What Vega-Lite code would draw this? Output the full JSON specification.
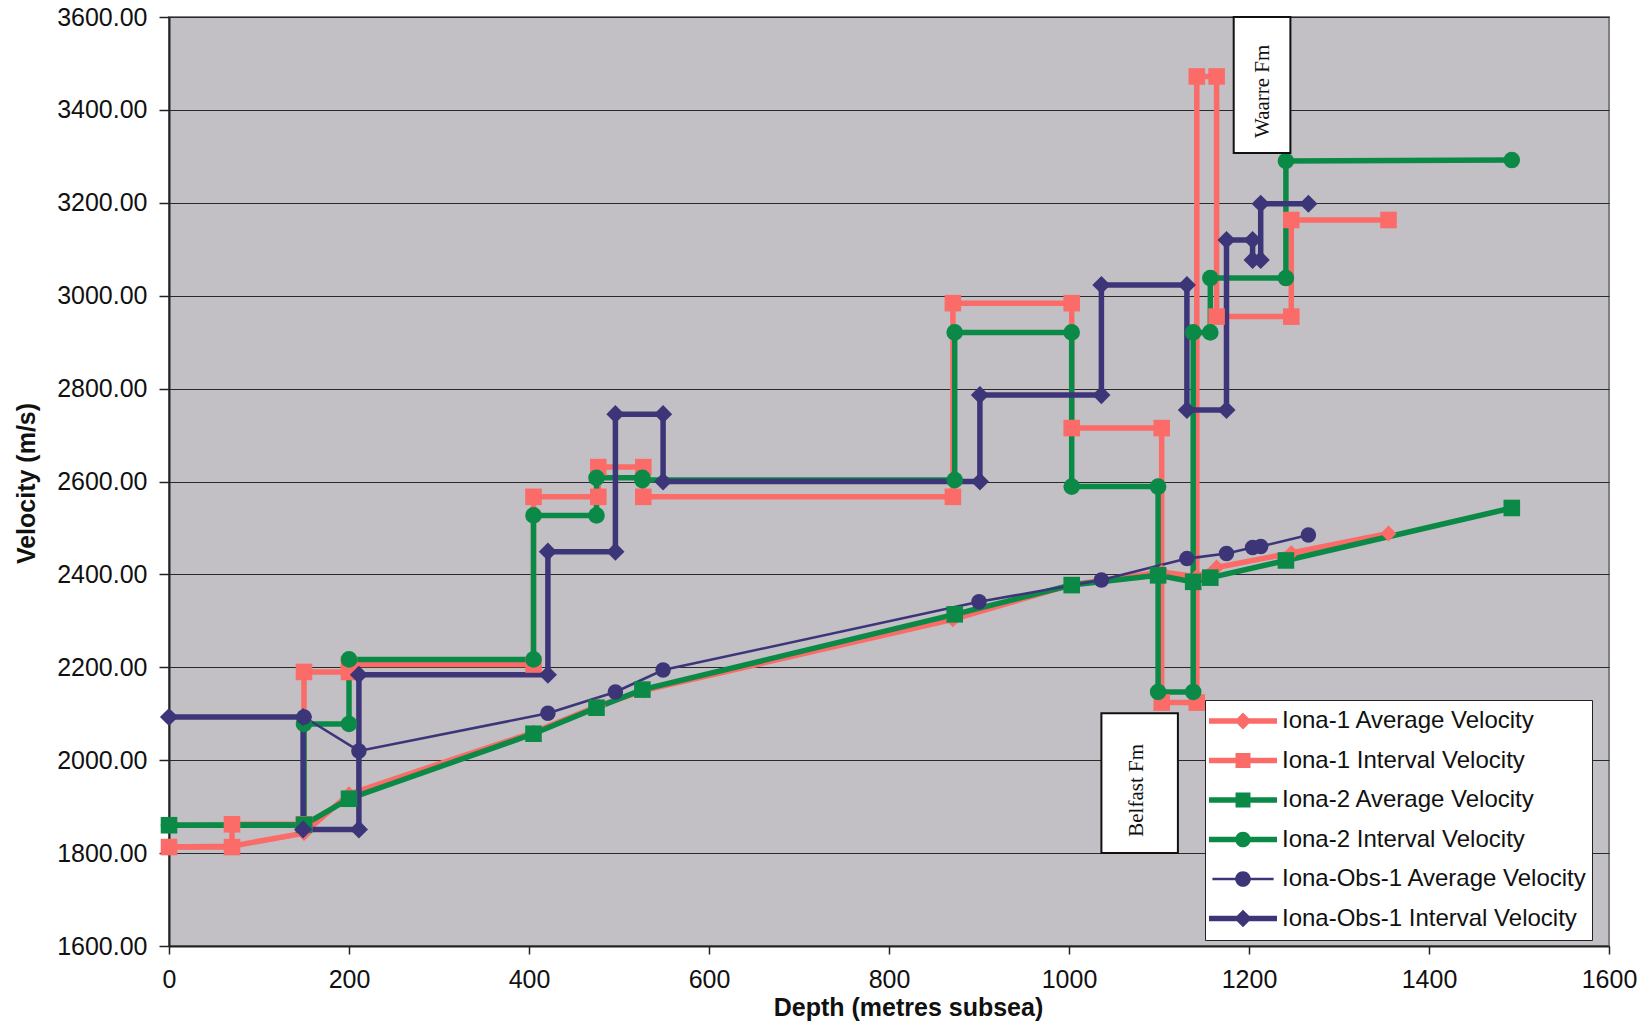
{
  "$schema": "https://vega.github.io/schema/vega-lite/v6.json",
  "width": 1440,
  "height": 929,
  "autosize": {"type": "none"},
  "padding": {"left": 169, "top": 17, "right": 34, "bottom": 77},
  "background": "white",
  "config": {
    "view": {"fill": "#c2c0c5", "stroke": "#7f7f7f", "strokeWidth": 2},
    "font": "Liberation Sans"
  },
  "datasets": {
    "vel": [
      {"s": "Iona-1 Average Velocity", "i": 0, "d": 0, "v": 1813},
      {"s": "Iona-1 Average Velocity", "i": 1, "d": 70, "v": 1815},
      {"s": "Iona-1 Average Velocity", "i": 2, "d": 150, "v": 1843},
      {"s": "Iona-1 Average Velocity", "i": 3, "d": 200, "v": 1927},
      {"s": "Iona-1 Average Velocity", "i": 4, "d": 405, "v": 2060},
      {"s": "Iona-1 Average Velocity", "i": 5, "d": 477, "v": 2117},
      {"s": "Iona-1 Average Velocity", "i": 6, "d": 527, "v": 2150},
      {"s": "Iona-1 Average Velocity", "i": 7, "d": 871, "v": 2303},
      {"s": "Iona-1 Average Velocity", "i": 8, "d": 1003, "v": 2378},
      {"s": "Iona-1 Average Velocity", "i": 9, "d": 1103, "v": 2405},
      {"s": "Iona-1 Average Velocity", "i": 10, "d": 1142, "v": 2395},
      {"s": "Iona-1 Average Velocity", "i": 11, "d": 1164, "v": 2415},
      {"s": "Iona-1 Average Velocity", "i": 12, "d": 1247, "v": 2446},
      {"s": "Iona-1 Average Velocity", "i": 13, "d": 1355, "v": 2488},

      {"s": "Iona-1 Interval Velocity", "i": 0, "d": 0, "v": 1813},
      {"s": "Iona-1 Interval Velocity", "i": 1, "d": 70, "v": 1813},
      {"s": "Iona-1 Interval Velocity", "i": 2, "d": 70, "v": 1862},
      {"s": "Iona-1 Interval Velocity", "i": 3, "d": 150, "v": 1862},
      {"s": "Iona-1 Interval Velocity", "i": 4, "d": 150, "v": 2190},
      {"s": "Iona-1 Interval Velocity", "i": 5, "d": 200, "v": 2190},
      {"s": "Iona-1 Interval Velocity", "i": 6, "d": 200, "v": 2206},
      {"s": "Iona-1 Interval Velocity", "i": 7, "d": 405, "v": 2206},
      {"s": "Iona-1 Interval Velocity", "i": 8, "d": 405, "v": 2567},
      {"s": "Iona-1 Interval Velocity", "i": 9, "d": 477, "v": 2567},
      {"s": "Iona-1 Interval Velocity", "i": 10, "d": 477, "v": 2631},
      {"s": "Iona-1 Interval Velocity", "i": 11, "d": 527, "v": 2631},
      {"s": "Iona-1 Interval Velocity", "i": 12, "d": 527, "v": 2567},
      {"s": "Iona-1 Interval Velocity", "i": 13, "d": 871, "v": 2567},
      {"s": "Iona-1 Interval Velocity", "i": 14, "d": 871, "v": 2984},
      {"s": "Iona-1 Interval Velocity", "i": 15, "d": 1003, "v": 2984},
      {"s": "Iona-1 Interval Velocity", "i": 16, "d": 1003, "v": 2715},
      {"s": "Iona-1 Interval Velocity", "i": 17, "d": 1103, "v": 2715},
      {"s": "Iona-1 Interval Velocity", "i": 18, "d": 1103, "v": 2124},
      {"s": "Iona-1 Interval Velocity", "i": 19, "d": 1142, "v": 2124},
      {"s": "Iona-1 Interval Velocity", "i": 20, "d": 1142, "v": 3472},
      {"s": "Iona-1 Interval Velocity", "i": 21, "d": 1164, "v": 3472},
      {"s": "Iona-1 Interval Velocity", "i": 22, "d": 1164, "v": 2955},
      {"s": "Iona-1 Interval Velocity", "i": 23, "d": 1247, "v": 2955},
      {"s": "Iona-1 Interval Velocity", "i": 24, "d": 1247, "v": 3163},
      {"s": "Iona-1 Interval Velocity", "i": 25, "d": 1355, "v": 3163},

      {"s": "Iona-2 Average Velocity", "i": 0, "d": 0, "v": 1860},
      {"s": "Iona-2 Average Velocity", "i": 1, "d": 150, "v": 1861},
      {"s": "Iona-2 Average Velocity", "i": 2, "d": 200, "v": 1917},
      {"s": "Iona-2 Average Velocity", "i": 3, "d": 405, "v": 2057},
      {"s": "Iona-2 Average Velocity", "i": 4, "d": 475, "v": 2113},
      {"s": "Iona-2 Average Velocity", "i": 5, "d": 526, "v": 2152},
      {"s": "Iona-2 Average Velocity", "i": 6, "d": 873, "v": 2314},
      {"s": "Iona-2 Average Velocity", "i": 7, "d": 1003, "v": 2377},
      {"s": "Iona-2 Average Velocity", "i": 8, "d": 1099, "v": 2398},
      {"s": "Iona-2 Average Velocity", "i": 9, "d": 1138, "v": 2384},
      {"s": "Iona-2 Average Velocity", "i": 10, "d": 1157, "v": 2393},
      {"s": "Iona-2 Average Velocity", "i": 11, "d": 1241, "v": 2430},
      {"s": "Iona-2 Average Velocity", "i": 12, "d": 1492, "v": 2543},

      {"s": "Iona-2 Interval Velocity", "i": 0, "d": 0, "v": 1860},
      {"s": "Iona-2 Interval Velocity", "i": 1, "d": 150, "v": 1860},
      {"s": "Iona-2 Interval Velocity", "i": 2, "d": 150, "v": 2078},
      {"s": "Iona-2 Interval Velocity", "i": 3, "d": 200, "v": 2078},
      {"s": "Iona-2 Interval Velocity", "i": 4, "d": 200, "v": 2217},
      {"s": "Iona-2 Interval Velocity", "i": 5, "d": 405, "v": 2217},
      {"s": "Iona-2 Interval Velocity", "i": 6, "d": 405, "v": 2527},
      {"s": "Iona-2 Interval Velocity", "i": 7, "d": 475, "v": 2527},
      {"s": "Iona-2 Interval Velocity", "i": 8, "d": 475, "v": 2608},
      {"s": "Iona-2 Interval Velocity", "i": 9, "d": 526, "v": 2608},
      {"s": "Iona-2 Interval Velocity", "i": 10, "d": 526, "v": 2603},
      {"s": "Iona-2 Interval Velocity", "i": 11, "d": 873, "v": 2603},
      {"s": "Iona-2 Interval Velocity", "i": 12, "d": 873, "v": 2921},
      {"s": "Iona-2 Interval Velocity", "i": 13, "d": 1003, "v": 2921},
      {"s": "Iona-2 Interval Velocity", "i": 14, "d": 1003, "v": 2589},
      {"s": "Iona-2 Interval Velocity", "i": 15, "d": 1099, "v": 2589},
      {"s": "Iona-2 Interval Velocity", "i": 16, "d": 1099, "v": 2147},
      {"s": "Iona-2 Interval Velocity", "i": 17, "d": 1138, "v": 2147},
      {"s": "Iona-2 Interval Velocity", "i": 18, "d": 1138, "v": 2921},
      {"s": "Iona-2 Interval Velocity", "i": 19, "d": 1157, "v": 2921},
      {"s": "Iona-2 Interval Velocity", "i": 20, "d": 1157, "v": 3038},
      {"s": "Iona-2 Interval Velocity", "i": 21, "d": 1241, "v": 3038},
      {"s": "Iona-2 Interval Velocity", "i": 22, "d": 1241, "v": 3290},
      {"s": "Iona-2 Interval Velocity", "i": 23, "d": 1492, "v": 3292},

      {"s": "Iona-Obs-1 Average Velocity", "i": 0, "d": 150, "v": 2093},
      {"s": "Iona-Obs-1 Average Velocity", "i": 1, "d": 211, "v": 2020},
      {"s": "Iona-Obs-1 Average Velocity", "i": 2, "d": 421, "v": 2101},
      {"s": "Iona-Obs-1 Average Velocity", "i": 3, "d": 496, "v": 2147},
      {"s": "Iona-Obs-1 Average Velocity", "i": 4, "d": 549, "v": 2194},
      {"s": "Iona-Obs-1 Average Velocity", "i": 5, "d": 900, "v": 2341},
      {"s": "Iona-Obs-1 Average Velocity", "i": 6, "d": 1036, "v": 2388},
      {"s": "Iona-Obs-1 Average Velocity", "i": 7, "d": 1131, "v": 2434},
      {"s": "Iona-Obs-1 Average Velocity", "i": 8, "d": 1175, "v": 2445},
      {"s": "Iona-Obs-1 Average Velocity", "i": 9, "d": 1204, "v": 2458},
      {"s": "Iona-Obs-1 Average Velocity", "i": 10, "d": 1213, "v": 2460},
      {"s": "Iona-Obs-1 Average Velocity", "i": 11, "d": 1266, "v": 2485},

      {"s": "Iona-Obs-1 Interval Velocity", "i": 0, "d": 0, "v": 2093},
      {"s": "Iona-Obs-1 Interval Velocity", "i": 1, "d": 149, "v": 2093},
      {"s": "Iona-Obs-1 Interval Velocity", "i": 2, "d": 149, "v": 1851},
      {"s": "Iona-Obs-1 Interval Velocity", "i": 3, "d": 211, "v": 1851},
      {"s": "Iona-Obs-1 Interval Velocity", "i": 4, "d": 211, "v": 2184},
      {"s": "Iona-Obs-1 Interval Velocity", "i": 5, "d": 421, "v": 2184},
      {"s": "Iona-Obs-1 Interval Velocity", "i": 6, "d": 421, "v": 2449},
      {"s": "Iona-Obs-1 Interval Velocity", "i": 7, "d": 496, "v": 2449},
      {"s": "Iona-Obs-1 Interval Velocity", "i": 8, "d": 496, "v": 2745},
      {"s": "Iona-Obs-1 Interval Velocity", "i": 9, "d": 549, "v": 2745},
      {"s": "Iona-Obs-1 Interval Velocity", "i": 10, "d": 549, "v": 2600},
      {"s": "Iona-Obs-1 Interval Velocity", "i": 11, "d": 901, "v": 2600},
      {"s": "Iona-Obs-1 Interval Velocity", "i": 12, "d": 901, "v": 2786},
      {"s": "Iona-Obs-1 Interval Velocity", "i": 13, "d": 1036, "v": 2786},
      {"s": "Iona-Obs-1 Interval Velocity", "i": 14, "d": 1036, "v": 3023},
      {"s": "Iona-Obs-1 Interval Velocity", "i": 15, "d": 1131, "v": 3023},
      {"s": "Iona-Obs-1 Interval Velocity", "i": 16, "d": 1131, "v": 2754},
      {"s": "Iona-Obs-1 Interval Velocity", "i": 17, "d": 1175, "v": 2754},
      {"s": "Iona-Obs-1 Interval Velocity", "i": 18, "d": 1175, "v": 3120},
      {"s": "Iona-Obs-1 Interval Velocity", "i": 19, "d": 1204, "v": 3120},
      {"s": "Iona-Obs-1 Interval Velocity", "i": 20, "d": 1204, "v": 3077},
      {"s": "Iona-Obs-1 Interval Velocity", "i": 21, "d": 1213, "v": 3077},
      {"s": "Iona-Obs-1 Interval Velocity", "i": 22, "d": 1213, "v": 3198},
      {"s": "Iona-Obs-1 Interval Velocity", "i": 23, "d": 1266, "v": 3198}
    ],
    "ann": [
      {"label": "Waarre Fm", "d1": 1183, "d2": 1246, "v1": 3307, "v2": 3600, "dc": 1216, "vc": 3440},
      {"label": "Belfast Fm", "d1": 1036, "d2": 1121, "v1": 1800, "v2": 2101, "dc": 1076, "vc": 1935}
    ]
  },
  "encoding": {
    "x": {
      "field": "d", "type": "quantitative",
      "scale": {"domain": [0, 1600], "nice": false, "zero": false},
      "axis": {
        "title": "Depth (metres subsea)",
        "values": [0, 200, 400, 600, 800, 1000, 1200, 1400, 1600],
        "format": "d",
        "grid": false,
        "labelFontSize": 25, "labelColor": "#111", "labelFont": "Liberation Sans",
        "labelFlush": false, "labelOverlap": false,
        "tickSize": 8, "tickColor": "#222", "tickWidth": 1.5,
        "domainColor": "#222", "domainWidth": 2,
        "labelPadding": 13,
        "titleFontSize": 25, "titleFontWeight": "bold", "titleColor": "#111", "titleFont": "Liberation Sans",
        "titleX": 739, "titleY": 61, "titleBaseline": "middle"
      }
    },
    "y": {
      "field": "v", "type": "quantitative",
      "scale": {"domain": [1600, 3600], "nice": false, "zero": false},
      "axis": {
        "title": "Velocity (m/s)",
        "values": [1600, 1800, 2000, 2200, 2400, 2600, 2800, 3000, 3200, 3400, 3600],
        "format": ".2f",
        "grid": true, "gridColor": "#2a2a2a", "gridWidth": 1.2,
        "labelFontSize": 25, "labelColor": "#111", "labelFont": "Liberation Sans",
        "labelFlush": false, "labelOverlap": false,
        "tickSize": 10, "tickColor": "#222", "tickWidth": 1.5,
        "domainColor": "#222", "domainWidth": 2,
        "labelPadding": 12,
        "titleFontSize": 25, "titleFontWeight": "bold", "titleColor": "#111", "titleFont": "Liberation Sans",
        "titleX": -143, "titleY": 466, "titleBaseline": "middle"
      }
    }
  },
  "layer": [
    {
      "data": {"name": "vel"},
      "mark": {"type": "line", "strokeCap": "butt", "strokeJoin": "miter"},
      "encoding": {
        "color": {
          "field": "s", "type": "nominal",
          "scale": {
            "domain": ["Iona-1 Average Velocity", "Iona-1 Interval Velocity", "Iona-2 Average Velocity", "Iona-2 Interval Velocity", "Iona-Obs-1 Average Velocity", "Iona-Obs-1 Interval Velocity"],
            "range": ["#fb6b68", "#fb6b68", "#0b8a47", "#0b8a47", "#3c3679", "#3c3679"]
          },
          "legend": null
        },
        "strokeWidth": {
          "condition": {"test": "datum.s === 'Iona-Obs-1 Average Velocity'", "value": 2.6},
          "value": 5.5
        },
        "order": {"field": "i", "type": "quantitative"}
      }
    },
    {
      "data": {"name": "vel"},
      "mark": {"type": "point", "filled": true, "opacity": 1, "strokeWidth": 0},
      "encoding": {
        "color": {
          "field": "s", "type": "nominal",
          "scale": {
            "domain": ["Iona-1 Average Velocity", "Iona-1 Interval Velocity", "Iona-2 Average Velocity", "Iona-2 Interval Velocity", "Iona-Obs-1 Average Velocity", "Iona-Obs-1 Interval Velocity"],
            "range": ["#fb6b68", "#fb6b68", "#0b8a47", "#0b8a47", "#3c3679", "#3c3679"]
          },
          "legend": null
        },
        "shape": {
          "field": "s", "type": "nominal",
          "scale": {
            "domain": ["Iona-1 Average Velocity", "Iona-1 Interval Velocity", "Iona-2 Average Velocity", "Iona-2 Interval Velocity", "Iona-Obs-1 Average Velocity", "Iona-Obs-1 Interval Velocity"],
            "range": ["diamond", "square", "square", "circle", "circle", "diamond"]
          },
          "legend": null
        },
        "size": {
          "condition": [
            {"test": "datum.s === 'Iona-1 Average Velocity'", "value": 250},
            {"test": "datum.s === 'Iona-Obs-1 Interval Velocity'", "value": 330},
            {"test": "datum.s === 'Iona-Obs-1 Average Velocity'", "value": 240}
          ],
          "value": 275
        }
      }
    },
    {
      "data": {"name": "vel"},
      "mark": {"type": "point", "filled": true, "opacity": 0},
      "encoding": {
        "color": {
          "field": "s", "type": "nominal",
          "scale": {
            "domain": ["Iona-1 Average Velocity", "Iona-1 Interval Velocity", "Iona-2 Average Velocity", "Iona-2 Interval Velocity", "Iona-Obs-1 Average Velocity", "Iona-Obs-1 Interval Velocity"],
            "range": ["#fb6b68", "#fb6b68", "#0b8a47", "#0b8a47", "#3c3679", "#3c3679"]
          },
          "legend": {
            "title": null, "orient": "none", "legendX": 1036, "legendY": 683,
            "fillColor": "white", "strokeColor": "#222", "padding": 4,
            "symbolSize": 4624, "clipHeight": 34, "rowPadding": 5.5,
            "labelFontSize": 24, "labelFont": "Liberation Sans", "labelColor": "#111",
            "labelOffset": 5, "labelLimit": 400, "symbolStrokeWidth": 0, "symbolOffset": 0,
            "encode": {"symbols": {"update": {"opacity": {"value": 1}}}}
          }
        },
        "shape": {
          "field": "s", "type": "nominal",
          "scale": {
            "domain": ["Iona-1 Average Velocity", "Iona-1 Interval Velocity", "Iona-2 Average Velocity", "Iona-2 Interval Velocity", "Iona-Obs-1 Average Velocity", "Iona-Obs-1 Interval Velocity"],
            "range": [
              "M-1,-0.08H1V0.08H-1Z M0,-0.25L0.25,0L0,0.25L-0.25,0Z",
              "M-1,-0.08H1V0.08H-1Z M-0.22,-0.22H0.22V0.22H-0.22Z",
              "M-1,-0.08H1V0.08H-1Z M-0.22,-0.22H0.22V0.22H-0.22Z",
              "M-1,-0.08H1V0.08H-1Z M-0.23,0A0.23,0.23,0,1,1,0.23,0A0.23,0.23,0,1,1,-0.23,0Z",
              "M-0.9,-0.038H0.9V0.038H-0.9Z M-0.23,0A0.23,0.23,0,1,1,0.23,0A0.23,0.23,0,1,1,-0.23,0Z",
              "M-1,-0.08H1V0.08H-1Z M0,-0.26L0.26,0L0,0.26L-0.26,0Z"
            ]
          },
          "legend": {
            "title": null, "orient": "none", "legendX": 1036, "legendY": 683,
            "fillColor": "white", "strokeColor": "#222", "padding": 4,
            "symbolSize": 4624, "clipHeight": 34, "rowPadding": 5.5,
            "labelFontSize": 24, "labelFont": "Liberation Sans", "labelColor": "#111",
            "labelOffset": 5, "labelLimit": 400, "symbolStrokeWidth": 0, "symbolOffset": 0,
            "encode": {"symbols": {"update": {"opacity": {"value": 1}}}}
          }
        }
      }
    },
    {
      "data": {"name": "ann"},
      "mark": {"type": "rect", "fill": "white", "stroke": "#111", "strokeWidth": 2},
      "encoding": {
        "x": {"field": "d1", "type": "quantitative"},
        "x2": {"field": "d2"},
        "y": {"field": "v1", "type": "quantitative"},
        "y2": {"field": "v2"}
      }
    },
    {
      "data": {"name": "ann"},
      "mark": {"type": "text", "angle": 270, "font": "Liberation Serif", "fontSize": 21, "color": "#111", "baseline": "middle", "align": "center"},
      "encoding": {
        "x": {"field": "dc", "type": "quantitative"},
        "y": {"field": "vc", "type": "quantitative"},
        "text": {"field": "label"}
      }
    }
  ],
  "resolve": {"scale": {"color": "independent", "shape": "independent"}}
}
